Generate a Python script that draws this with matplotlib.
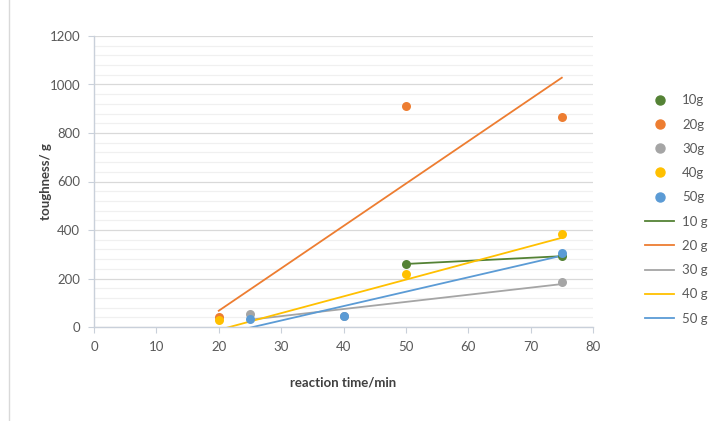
import numpy as np
import matplotlib
matplotlib.use("Agg")
import matplotlib.pyplot as plt
from matplotlib.lines import Line2D
from matplotlib.patches import Rectangle

plt.rcParams['font.family'] = ['Lato', 'DejaVu Sans']

# DATA
series = ['10g', '20g', '30g', '40g', '50g']
colors = ['#548235', '#ED7D31', '#A5A5A5', '#FFC000', '#5B9BD5']

pts_x = {
    '10g': [50, 75],
    '20g': [20, 50, 75],
    '30g': [25, 40, 75],
    '40g': [20, 50, 75],
    '50g': [25, 40, 75],
}
pts_y = {
    '10g': [260, 291],
    '20g': [40, 910, 866],
    '30g': [53, 47, 187],
    '40g': [30, 217, 384],
    '50g': [35, 45, 306],
}

# trendline ends
trend_x = {
    '10g': [50, 75],
    '20g': [20, 75],
    '30g': [25, 75],
    '40g': [20, 75],
    '50g': [25, 75],
}
trend_y = {
    '10g': [260, 292],
    '20g': [67, 1028],
    '30g': [30, 177],
    '40g': [-12, 368],
    '50g': [-3, 294],
}
trend_labels = ['10 g', '20 g', '30 g', '40 g', '50 g']

# FIGURE
fig = plt.figure(figsize=(7.14, 4.21), dpi=100)
ax = fig.add_axes([94/714, 1 - 327/421, (593-94)/714, (327-36)/421])

for name, c in zip(series, colors):
    ax.plot(trend_x[name], trend_y[name], color=c, lw=1.3, zorder=2, clip_on=True)
for name, c in zip(series, colors):
    ax.scatter(pts_x[name], pts_y[name], s=42, color=c, zorder=3, linewidths=0)

ax.set_xlim(0, 80)
ax.set_ylim(0, 1200)
ax.set_xticks(np.arange(0, 81, 10))
ax.set_yticks(np.arange(0, 1201, 200))
ax.set_yticks(np.arange(0, 1201, 40), minor=True)

ax.grid(axis='y', which='major', color='#D9D9D9', lw=0.9, zorder=0)
ax.grid(axis='y', which='minor', color='#F0F0F0', lw=0.9, zorder=0)
ax.set_axisbelow(True)

for s in ['top', 'right']:
    ax.spines[s].set_visible(False)
for s in ['left', 'bottom']:
    ax.spines[s].set_color('#C9D0DA')
    ax.spines[s].set_linewidth(1.0)

ax.tick_params(axis='both', which='major', direction='out', length=4,
               color='#C9D0DA', labelcolor='#595959', labelsize=9.5, pad=6)
ax.tick_params(axis='y', which='minor', length=0)

ax.set_xlabel('reaction time/min', fontsize=9.5, fontweight='bold',
              color='#404040', labelpad=17)
ax.set_ylabel('toughness/ g', fontsize=9.5, fontweight='bold',
              color='#404040', labelpad=-2)

# legend
handles = []
labels = []
for name, c in zip(series, colors):
    handles.append(Line2D([], [], ls='none', marker='o', ms=6.5, color=c, mec=c))
    labels.append(name)
for name, c in zip(trend_labels, colors):
    handles.append(Line2D([], [], color=c, lw=1.3))
    labels.append(name)
leg = fig.legend(handles, labels, loc='upper left', bbox_to_anchor=(640/714, 1 - 89/421),
                 frameon=False, fontsize=9.5, handlelength=2.2, labelspacing=0.93,
                 handletextpad=0.6, borderaxespad=0)
for t in leg.get_texts():
    t.set_color('#595959')

# chart border
fig.patches.append(Rectangle((9/714, -0.01), 1.0, 1.02, transform=fig.transFigure,
                             fill=False, ec='#D9D9D9', lw=1))

fig.savefig('out.png', dpi=100)
